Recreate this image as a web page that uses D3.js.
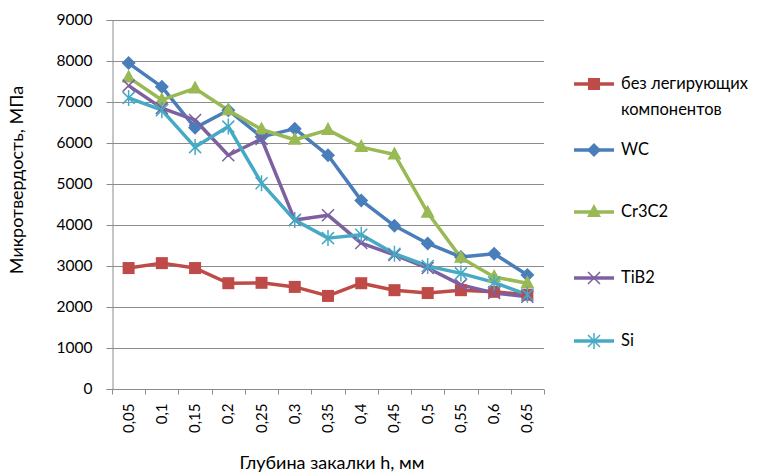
<!DOCTYPE html>
<html>
<head>
<meta charset="utf-8">
<script src="https://cdn.jsdelivr.net/npm/d3@7"></script>
<style>
  body { margin: 0; background: #fff; }
  text { font-family: Lato, "Open Sans", sans-serif; fill: #000; }
</style>
</head>
<body>
<div id="container"></div>
<script>
const width = 768,
    height = 473,
    margin = { top: 20, bottom: 84, left: 112, right: 224 }

// DATA
const depths = ["0,05", "0,1", "0,15", "0,2", "0,25", "0,3", "0,35", "0,4", "0,45", "0,5", "0,55", "0,6", "0,65"]
const seriesNames = ["без легирующих компонентов", "WC", "Cr3C2", "TiB2", "Si"]
const base = [2950, 3070, 2950, 2580, 2590, 2490, 2270, 2580, 2410, 2340, 2410, 2370, 2300]
const wc = [7950, 7370, 6370, 6800, 6150, 6350, 5700, 4600, 3980, 3550, 3220, 3300, 2780]
const cr3c2 = [7600, 7050, 7330, 6800, 6330, 6080, 6320, 5900, 5720, 4300, 3200, 2730, 2580]
const tib2 = [7400, 6850, 6560, 5700, 6100, 4120, 4240, 3560, 3270, 2950, 2540, 2340, 2250]
const si = [7100, 6800, 5900, 6400, 5020, 4120, 3680, 3760, 3300, 3000, 2820, 2600, 2300]
const yTicks = [0, 1000, 2000, 3000, 4000, 5000, 6000, 7000, 8000, 9000]

const colors = ["#BE4B48", "#4A7EBB", "#98B954", "#7D60A0", "#46AAC5"]
const markers = ["square", "diamond", "triangle", "cross", "star"]
const allSeries = [base, wc, cr3c2, tib2, si]

/* SCALES */
const xScale = d3.scaleBand()
    .domain(depths)
    .range([margin.left, width - margin.right])

const yScale = d3.scaleLinear()
    .domain([0, 9000])
    .range([height - margin.bottom, margin.top])

const svg = d3.select("#container")
    .append("svg")
    .attr("width", width)
    .attr("height", height)

// GRIDLINES
svg.append("g")
    .selectAll("line")
    .data(yTicks)
    .join("line")
    .attr("x1", margin.left)
    .attr("x2", width - margin.right)
    .attr("y1", d => Math.round(yScale(d)) + 0.5)
    .attr("y2", d => Math.round(yScale(d)) + 0.5)
    .attr("stroke", "#8c8c8c")
    .attr("stroke-width", 1)

// Y AXIS
const yAxis = d3.axisLeft(yScale).tickValues(yTicks).tickSize(6).tickPadding(14).tickFormat(d => d)
svg.append("g")
    .attr("transform", `translate(${margin.left + 0.5},0)`)
    .call(yAxis)
    .call(g => g.select(".domain").attr("stroke", "#8c8c8c"))
    .call(g => g.selectAll(".tick line").attr("stroke", "#8c8c8c"))
    .call(g => g.selectAll(".tick text").attr("font-size", 15.5).attr("font-family", "Lato, sans-serif"))

// X AXIS (ticks between categories)
const xg = svg.append("g")
    .attr("transform", `translate(0,${Math.round(height - margin.bottom) + 0.5})`)
xg.append("line")
    .attr("x1", margin.left).attr("x2", width - margin.right)
    .attr("stroke", "#8c8c8c")
xg.selectAll(".tk")
    .data(depths.concat(["end"]))
    .join("line")
    .attr("class", "tk")
    .attr("x1", (d, i) => Math.round(margin.left + i * xScale.step()) + 0.5)
    .attr("x2", (d, i) => Math.round(margin.left + i * xScale.step()) + 0.5)
    .attr("y1", 0).attr("y2", 5)
    .attr("stroke", "#8c8c8c")
xg.selectAll("text")
    .data(depths)
    .join("text")
    .attr("transform", d => `translate(${xScale(d) + xScale.bandwidth() / 2 + 5},14) rotate(-90)`)
    .attr("text-anchor", "end")
    .attr("font-size", 15)
    .text(d => d)

// LINES
const line = d3.line()
    .x((d, i) => xScale(depths[i]) + xScale.bandwidth() / 2)
    .y(d => yScale(d))

allSeries.forEach((s, k) => {
    svg.append("path")
        .datum(s)
        .attr("d", line)
        .attr("fill", "none")
        .attr("stroke", colors[k])
        .attr("stroke-width", 3.5)
        .attr("stroke-linejoin", "round")
})

function drawMarker(g, type, color) {
    if (type === "square") {
        g.append("rect").attr("x", -6).attr("y", -6).attr("width", 12).attr("height", 12).attr("fill", color)
    } else if (type === "diamond") {
        g.append("path").attr("d", "M0,-7L7,0L0,7L-7,0Z").attr("fill", color)
    } else if (type === "triangle") {
        g.append("path").attr("d", "M0,-8L7,5L-7,5Z").attr("fill", color)
    } else if (type === "cross") {
        g.append("path").attr("d", "M-6,-6L6,6M-6,6L6,-6").attr("stroke", color).attr("stroke-width", 1.5)
    } else {
        g.append("path").attr("d", "M-6,-6L6,6M-6,6L6,-6M0,-8L0,8").attr("stroke", color).attr("stroke-width", 1.5)
    }
}

allSeries.forEach((s, k) => {
    svg.append("g")
        .selectAll("g")
        .data(s)
        .join("g")
        .attr("transform", (d, i) => `translate(${xScale(depths[i]) + xScale.bandwidth() / 2},${yScale(d)})`)
        .each(function () { drawMarker(d3.select(this), markers[k], colors[k]) })
})

// AXIS TITLES
svg.append("text")
    .attr("transform", "translate(23,180) rotate(-90)")
    .attr("text-anchor", "middle")
    .attr("font-size", 18)
    .text("Микротвердость, МПа")

svg.append("text")
    .attr("x", 332)
    .attr("y", 469)
    .attr("text-anchor", "middle")
    .attr("font-size", 18)
    .text("Глубина закалки h, мм")

// LEGEND
const legendY = [84, 150, 212, 278, 341]
const legend = svg.append("g")
seriesNames.forEach((name, k) => {
    const g = legend.append("g").attr("transform", `translate(574,${legendY[k]})`)
    g.append("line").attr("x1", 0).attr("x2", 40).attr("stroke", colors[k]).attr("stroke-width", 3.5)
    drawMarker(g.append("g").attr("transform", "translate(20,0)"), markers[k], colors[k])
    const t = g.append("text").attr("x", 47).attr("y", 5).attr("font-size", 16.5)
    if (k === 0) {
        t.append("tspan").attr("x", 47).text("без легирующих")
        t.append("tspan").attr("x", 47).attr("dy", 26).text("компонентов")
    } else {
        t.text(name)
    }
})
</script>
</body>
</html>
